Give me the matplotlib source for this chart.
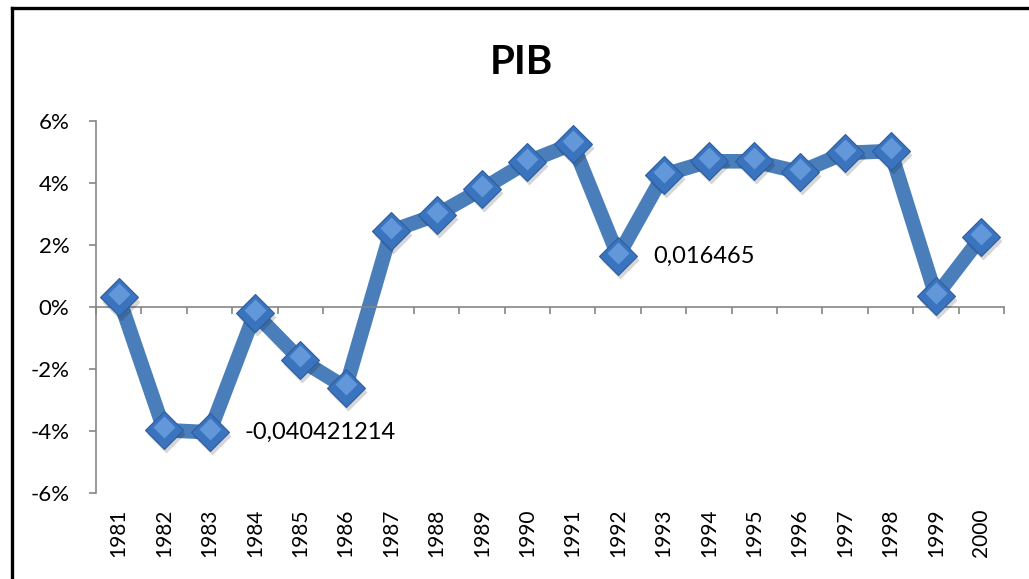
import matplotlib
matplotlib.use("Agg")
import matplotlib.pyplot as plt
import matplotlib.transforms as mtransforms
from matplotlib.lines import Line2D
from matplotlib.ticker import FixedLocator, FuncFormatter

plt.rcParams['font.family'] = ['Lato', 'DejaVu Sans']

years = ["1981", "1982", "1983", "1984", "1985", "1986", "1987", "1988", "1989", "1990",
         "1991", "1992", "1993", "1994", "1995", "1996", "1997", "1998", "1999", "2000"]
pib = [0.0031, -0.0397, -0.040421214, -0.0020, -0.0170, -0.0260, 0.0245, 0.0297, 0.0380, 0.0468,
       0.0526, 0.016465, 0.0426, 0.0470, 0.0470, 0.0435, 0.0497, 0.0503, 0.0035, 0.0226]
labelled = {2: "-0,040421214", 11: "0,016465"}
title = "PIB"
yticks = [-0.06, -0.04, -0.02, 0.0, 0.02, 0.04, 0.06]

fig = plt.figure(figsize=(10.29, 5.79), dpi=100)
ax = fig.add_axes([96/1029, 1-493/579, 908/1029, 372/579])

x = list(range(len(years)))
line_col = '#4A7EBB'
ax.plot(x, pib, color=line_col, lw=10.5, solid_joinstyle='miter', zorder=2)

# marker shadow
shadow = mtransforms.offset_copy(ax.transData, fig=fig, x=1.5, y=-3, units='points')
ax.plot(x, pib, ls='none', marker='D', ms=19.5, mfc='#000000', mec='none', alpha=0.16,
        transform=shadow, zorder=3)
# marker body
ax.plot(x, pib, ls='none', marker='D', ms=19, mfc='#3A73BE', mec='#2E5E9E', mew=0.8, zorder=4)
# highlight
hl = mtransforms.offset_copy(ax.transData, fig=fig, x=0, y=2.4, units='points')
ax.plot(x, pib, ls='none', marker='D', ms=11.5, mfc='#6A9FDF', mec='none', alpha=0.85,
        transform=hl, zorder=5)

ax.set_xlim(-0.5, len(years) - 0.5)
ax.set_ylim(-0.06, 0.06)

gray = '#868686'
for s in ['top', 'right']:
    ax.spines[s].set_visible(False)
ax.spines['left'].set_color(gray)
ax.spines['left'].set_linewidth(1.2)
ax.spines['bottom'].set_position(('data', 0))
ax.spines['bottom'].set_color(gray)
ax.spines['bottom'].set_linewidth(1.2)

ax.yaxis.set_major_locator(FixedLocator(yticks))
ax.yaxis.set_major_formatter(FuncFormatter(lambda v, p: f"{v*100:.0f}%"))
ax.tick_params(axis='y', direction='out', length=5, width=1.2, color=gray, pad=14,
               labelsize=16, labelcolor='black')

ax.xaxis.set_major_locator(FixedLocator([i - 0.5 for i in range(len(years) + 1)]))
ax.tick_params(axis='x', direction='out', length=5, width=1.2, color=gray, labelbottom=False)

sec = ax.secondary_xaxis(location=0)
sec.spines['bottom'].set_visible(False)
sec.xaxis.set_major_locator(FixedLocator(x))
sec.set_xticklabels(years, rotation=90)
sec.tick_params(axis='x', length=0, pad=11, labelsize=15)

for i, txt in labelled.items():
    ax.annotate(txt, (x[i], pib[i]), xytext=(25, 0), textcoords='offset points',
                ha='left', va='center', fontsize=17, zorder=6)

fig.text(521/1029, 1-62/579, title, ha='center', va='center', fontsize=29, fontweight='bold')

fig.add_artist(Line2D([12/1029, 12/1029], [-0.01, 1-8/579], transform=fig.transFigure,
                      color='black', lw=2.4))
fig.add_artist(Line2D([12/1029, 1.01], [1-8/579, 1-8/579], transform=fig.transFigure,
                      color='black', lw=2.4))

fig.savefig("out.png", dpi=100)
